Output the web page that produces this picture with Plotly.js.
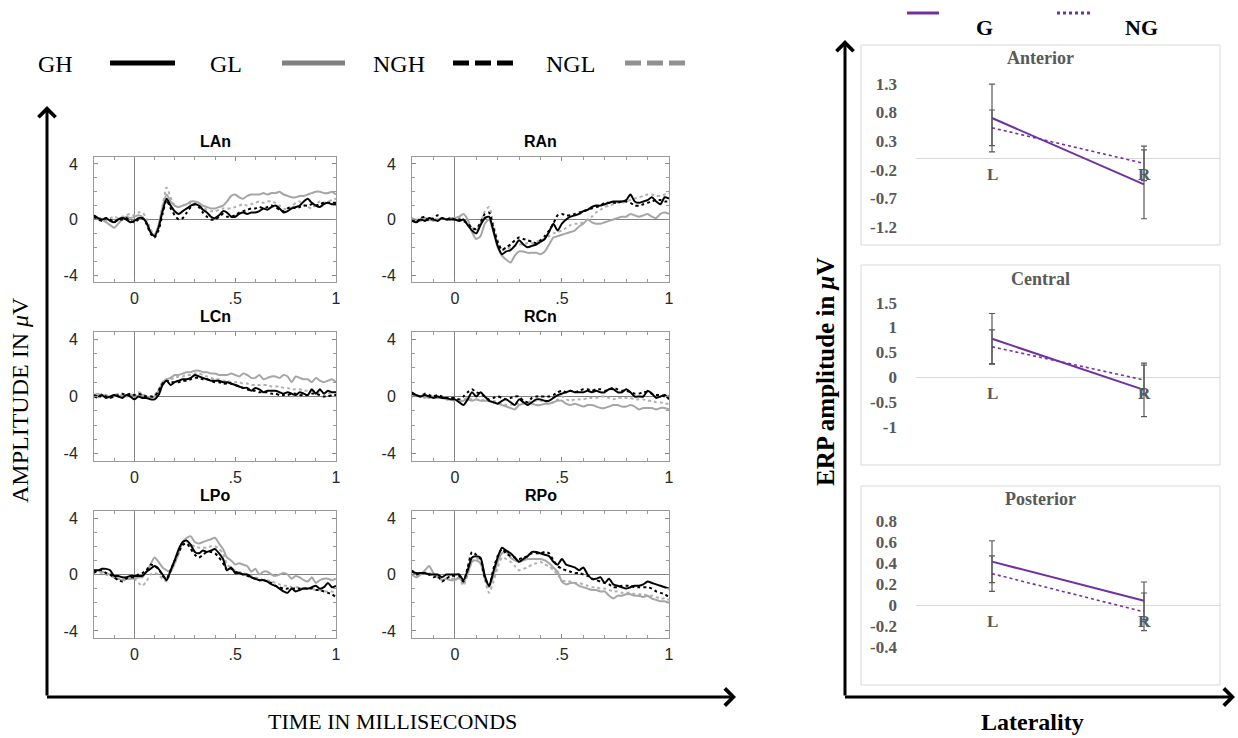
<!DOCTYPE html>
<html>
<head>
<meta charset="utf-8">
<script src="https://cdn.plot.ly/plotly-3.0.1.min.js"></script>
<style>html,body{margin:0;padding:0;background:#fff;}#chart{width:1238px;height:738px;}</style>
</head>
<body>
<div id="chart"></div>
<script>
// ---------- DATA ----------
const time = [-0.2,-0.18,-0.16,-0.14,-0.12,-0.1,-0.08,-0.06,-0.04,-0.02,
0,0.02,0.04,0.06,0.08,0.1,0.12,0.14,0.16,0.18,
0.2,0.22,0.24,0.26,0.28,0.3,0.32,0.34,0.36,0.38,
0.4,0.42,0.44,0.46,0.48,0.5,0.52,0.54,0.56,0.58,
0.6,0.62,0.64,0.66,0.68,0.7,0.72,0.74,0.76,0.78,
0.8,0.82,0.84,0.86,0.88,0.9,0.92,0.94,0.96,0.98,1.0];

const seriesNames = ['GH','GL','NGH','NGL'];
const panelNames = ['LAn','RAn','LCn','RCn','LPo','RPo'];
const xTickLabels = ['0','.5','1'];
const yTickLabels = ['-4','0','4'];

const LAn_GH = [0.3,0.1,0.0,0.1,-0.1,-0.2,0.0,0.1,0.0,-0.2, -0.1,0.1,0.1,-0.2,-0.9,-1.2,-0.6,0.6,1.5,1.0, 0.6,0.4,0.6,0.8,1.0,1.1,1.0,0.7,0.5,0.2, 0.1,0.3,0.6,0.5,0.2,0.2,0.4,0.5,0.4,0.5, 0.5,0.6,0.8,0.7,0.9,1.0,0.8,0.5,0.6,0.8, 0.9,1.0,1.3,1.5,1.2,1.0,0.9,1.1,1.2,1.1, 1.1];
const LAn_GL = [0.2,0.1,0.0,-0.2,-0.4,-0.6,-0.3,0.0,0.2,0.1, 0.2,0.3,0.2,-0.3,-0.9,-1.1,-0.4,0.9,1.8,1.3, 1.0,0.9,1.0,1.1,1.3,1.3,1.2,1.0,0.9,0.8, 0.8,0.9,1.0,1.3,1.7,1.8,1.6,1.5,1.7,1.8, 1.8,1.8,1.9,1.8,1.9,1.9,2.0,1.8,1.7,1.6, 1.6,1.7,1.7,1.8,1.9,2.0,2.0,1.9,1.9,2.0, 1.8];
const LAn_NGH = [0.2,0.0,-0.1,0.1,0.0,-0.2,0.0,0.0,0.1,-0.1, -0.2,0.0,0.1,-0.3,-1.0,-1.3,-0.8,0.4,1.4,0.8, 0.3,0.0,0.1,0.5,0.9,1.1,0.9,0.5,0.2,0.0, 0.0,0.2,0.4,0.2,0.2,0.3,0.5,0.6,0.7,0.8, 0.8,0.9,0.8,0.9,1.0,0.9,0.7,0.6,0.8,0.9, 0.8,0.9,1.0,1.0,1.1,1.0,1.1,1.2,1.2,1.2, 1.2];
const LAn_NGL = [0.1,0.2,0.0,-0.1,0.1,0.2,0.1,0.2,0.3,0.4, 0.3,0.5,0.5,0.1,-0.7,-1.1,-0.5,1.0,2.3,1.6, 1.0,0.9,1.0,1.1,1.2,1.2,1.1,0.9,0.7,0.6, 0.6,0.7,0.8,0.8,0.8,0.9,1.0,1.1,1.0,1.1, 1.2,1.3,1.2,1.3,1.3,1.2,1.0,0.8,0.7,0.9, 1.2,1.3,1.0,0.9,0.8,1.1,1.3,1.2,1.3,1.4, 1.5];

const RAn_GH = [-0.1,-0.2,0.0,-0.1,0.1,0.0,-0.1,0.1,0.0,0.0, 0.0,-0.1,0.0,-0.4,-0.8,-1.0,-0.4,0.1,0.2,-0.8, -1.9,-2.5,-2.3,-2.2,-1.9,-1.5,-1.8,-2.0,-1.9,-1.8, -1.6,-1.4,-0.9,-0.3,-0.8,-0.3,0.0,0.2,0.3,0.4, 0.6,0.7,0.9,1.0,1.0,1.1,1.2,1.3,1.3,1.3, 1.4,1.8,1.3,1.2,1.3,1.4,1.6,1.3,1.1,1.6, 1.5];
const RAn_GL = [0.0,0.0,-0.1,0.1,0.0,-0.1,0.0,0.1,0.0,0.1, 0.1,0.2,0.4,0.0,-0.9,-1.4,-1.2,-0.3,0.0,-0.9, -2.0,-2.6,-2.9,-3.1,-2.6,-2.3,-2.3,-2.4,-2.4,-2.4, -2.5,-2.3,-1.8,-1.3,-1.2,-1.1,-1.0,-0.9,-0.8,-0.5, -0.3,0.0,-0.2,-0.3,-0.3,-0.2,-0.1,0.0,0.1,0.2, 0.2,0.4,0.3,0.2,0.3,0.4,0.2,0.1,0.4,0.5, 0.4];
const RAn_NGH = [0.0,-0.2,0.1,0.2,-0.1,0.1,0.3,0.1,0.0,0.1, 0.0,0.0,-0.1,-0.3,-0.6,-0.7,-0.2,0.4,0.5,-0.6, -1.6,-2.2,-2.0,-1.8,-1.5,-1.3,-1.4,-1.5,-1.6,-1.7, -1.5,-1.2,-0.8,-0.3,0.3,0.4,0.3,0.3,0.4,0.5, 0.6,0.7,0.8,0.9,1.0,1.2,1.2,1.2,1.2,1.3, 1.3,1.2,1.0,1.0,1.1,1.2,1.3,1.4,1.4,1.3, 1.3];
const RAn_NGL = [0.1,0.0,0.0,-0.1,0.0,0.1,0.0,0.1,0.0,0.1, 0.0,0.1,0.0,-0.2,-0.6,-0.8,-0.3,0.6,0.9,-0.3, -1.5,-2.2,-2.1,-2.0,-1.9,-1.8,-1.8,-1.7,-1.7,-1.6, -1.5,-1.4,-1.2,-1.0,-0.9,-0.8,-0.6,-0.4,-0.3,-0.3, -0.2,0.0,0.2,0.5,0.7,0.9,1.0,1.1,1.2,1.2, 1.3,1.4,1.5,1.6,1.7,1.8,1.8,1.7,1.7,1.8, 1.9];

const LCn_GH = [0.1,0.0,0.1,-0.1,0.0,0.1,0.0,-0.1,0.1,0.0, -0.2,0.0,-0.1,-0.1,-0.2,-0.2,0.1,0.8,1.1,0.8, 1.0,1.1,1.2,1.2,1.3,1.5,1.4,1.3,1.2,1.1, 1.1,1.1,1.0,1.0,0.9,0.8,0.7,0.6,0.6,0.4, 0.6,0.5,0.3,0.4,0.4,0.4,0.3,0.2,0.3,0.2, 0.1,0.3,0.2,0.1,0.5,0.2,0.5,0.2,0.4,0.3, 0.3];
const LCn_GL = [0.1,0.2,0.0,0.1,-0.1,0.1,0.0,0.1,0.0,0.1, 0.1,0.0,0.1,0.0,-0.1,0.0,0.4,1.0,1.2,1.3, 1.5,1.5,1.6,1.7,1.7,1.8,1.8,1.7,1.7,1.6, 1.6,1.5,1.5,1.5,1.6,1.5,1.4,1.6,1.5,1.3, 1.3,1.5,1.2,1.3,1.4,1.4,1.3,1.5,1.4,1.0, 1.4,1.3,1.2,1.2,1.0,1.3,1.1,1.0,1.1,1.2, 1.0];
const LCn_NGH = [0.0,-0.1,0.1,0.0,-0.1,0.0,0.1,0.2,0.1,0.2, 0.1,0.2,0.1,0.0,0.0,0.0,0.4,0.9,1.1,1.0, 1.0,1.0,1.1,1.1,1.2,1.3,1.3,1.2,1.2,1.1, 1.0,1.0,0.9,0.9,0.9,0.8,0.7,0.6,0.5,0.4, 0.4,0.3,0.3,0.3,0.2,0.2,0.1,0.1,0.1,0.2, 0.2,0.1,0.1,0.1,0.2,0.2,0.1,0.0,0.0,0.1, 0.1];
const LCn_NGL = [0.1,0.0,0.2,0.1,0.0,0.1,0.2,0.1,0.1,0.2, 0.1,0.3,0.2,0.0,0.0,0.1,0.5,1.0,1.2,1.2, 1.3,1.4,1.4,1.5,1.5,1.6,1.6,1.5,1.4,1.3, 1.2,1.2,1.1,1.1,1.0,1.0,1.0,0.9,0.9,0.8, 0.8,0.8,0.8,0.8,0.7,0.7,0.7,0.6,0.6,0.5, 0.5,0.5,0.4,0.4,0.4,0.3,0.3,0.2,0.2,0.3, 0.3];

const RCn_GH = [0.3,0.1,0.0,0.1,0.0,-0.1,0.0,-0.1,-0.1,-0.2, -0.2,-0.4,-0.6,-0.2,0.3,0.0,0.3,0.0,-0.3,-0.4, -0.5,-0.3,-0.2,-0.4,-0.6,-0.2,-0.4,-0.6,-0.4,-0.2, -0.2,-0.3,-0.3,-0.1,0.1,0.2,0.3,0.4,0.3,0.3, 0.3,0.4,0.3,0.4,0.3,0.3,0.5,0.5,0.3,0.3, 0.5,0.3,0.0,0.0,0.0,0.4,0.2,-0.1,0.0,0.1, -0.2];
const RCn_GL = [0.0,0.1,0.0,0.0,-0.1,0.0,-0.1,-0.1,-0.2,-0.2, -0.2,-0.3,-0.3,-0.2,-0.3,-0.2,-0.3,-0.3,-0.3,-0.4, -0.5,-0.6,-0.7,-0.8,-0.9,-0.6,-0.5,-0.5,-0.5,-0.6, -0.6,-0.5,-0.5,-0.4,-0.3,-0.3,-0.5,-0.6,-0.5,-0.6, -0.7,-0.6,-0.6,-0.7,-0.8,-0.8,-0.7,-0.6,-0.6,-0.7, -0.7,-0.6,-0.7,-0.9,-0.8,-0.8,-0.8,-0.9,-0.8,-0.8, -0.9];
const RCn_NGH = [0.2,0.1,0.0,0.2,0.1,0.0,0.1,0.0,-0.1,-0.1, -0.1,-0.2,0.0,0.3,0.5,0.3,0.2,0.0,-0.2,-0.1, 0.0,-0.1,-0.2,-0.1,0.0,0.0,-0.3,-0.4,-0.1,0.0, 0.0,0.0,0.0,0.1,0.3,0.4,0.3,0.4,0.3,0.4, 0.5,0.5,0.4,0.5,0.5,0.4,0.5,0.6,0.5,0.4, 0.4,0.3,0.2,0.2,0.3,0.3,0.2,0.1,0.1,0.0, 0.0];
const RCn_NGL = [0.0,0.1,0.0,-0.1,0.0,0.0,-0.1,-0.1,-0.2,-0.2, -0.3,-0.2,-0.2,-0.1,-0.2,-0.2,-0.3,-0.2,-0.3,-0.3, -0.4,-0.5,-0.6,-0.6,-0.5,-0.5,-0.4,-0.4,-0.3,-0.3, -0.3,-0.4,-0.5,-0.4,-0.2,0.0,-0.2,-0.3,-0.2,-0.2, -0.2,-0.1,-0.1,-0.1,0.0,0.0,-0.1,-0.2,-0.1,-0.1, -0.1,-0.1,-0.2,-0.2,-0.2,-0.3,-0.3,-0.4,-0.4,-0.5, -0.5];

const LPo_GH = [0.3,0.3,0.4,0.4,0.3,-0.1,-0.1,-0.2,-0.2,-0.1, -0.1,-0.1,-0.1,0.2,0.4,0.6,0.4,0.0,-0.4,0.3, 1.0,1.8,2.3,2.4,2.1,1.6,1.5,1.7,1.6,1.7, 1.8,1.5,1.1,0.3,0.5,0.1,0.1,0.0,0.0,-0.2, -0.3,-0.4,-0.4,-0.5,-0.7,-0.8,-1.0,-1.2,-1.3,-1.0, -1.2,-1.1,-1.0,-1.0,-0.9,-0.8,-1.0,-0.9,-0.6,-0.9, -0.8];
const LPo_GL = [0.2,0.3,0.2,0.1,0.0,-0.2,-0.3,-0.4,-0.3,-0.3, -0.3,-0.2,-0.2,0.2,0.7,1.2,0.9,0.5,0.3,0.2, 0.8,1.5,2.3,2.6,2.7,2.3,2.2,2.3,2.4,2.5, 2.6,2.2,1.8,1.2,1.0,0.7,0.8,0.7,0.6,0.2, 0.4,0.0,0.2,0.2,0.0,-0.1,0.0,0.1,0.0,-0.3, -0.1,-0.2,-0.4,-0.5,-0.2,-0.6,-0.4,-0.3,-0.3,-0.4, -0.3];
const LPo_NGH = [0.1,0.3,0.3,0.1,0.0,-0.2,-0.4,-0.5,-0.3,-0.2, -0.2,0.0,0.1,0.3,0.7,0.6,0.4,-0.1,-0.3,0.3, 1.0,1.6,2.1,2.2,1.8,1.4,1.2,1.4,1.6,1.6, 1.5,1.2,0.8,0.3,0.4,0.2,0.1,0.0,-0.1,-0.2, -0.3,-0.4,-0.4,-0.5,-0.6,-0.8,-0.9,-1.0,-1.0,-1.0, -1.0,-1.0,-1.0,-1.0,-1.0,-1.1,-1.1,-1.2,-1.3,-1.4, -1.6];
const LPo_NGL = [0.3,0.2,0.1,0.0,-0.1,-0.2,-0.3,-0.4,-0.4,-0.3, -0.3,-0.6,-0.8,-0.5,0.0,0.1,0.0,-0.3,-0.5,0.2, 0.8,1.5,2.2,2.3,2.1,2.0,1.9,1.9,1.9,2.0, 2.0,1.8,1.5,0.7,0.5,0.3,0.2,0.1,0.0,-0.1, -0.2,-0.3,-0.4,-0.4,-0.5,-0.6,-0.7,-0.8,-0.8,-0.9, -0.9,-0.9,-1.0,-1.0,-1.0,-1.1,-1.1,-1.2,-1.2,-1.2, -1.3];

const RPo_GH = [0.2,0.1,0.1,0.1,0.0,0.0,0.0,-0.2,0.0,0.0, 0.0,0.0,-0.4,0.3,1.2,1.3,1.2,-0.1,-0.8,0.2, 1.2,1.9,1.7,1.5,1.2,0.9,1.1,1.3,1.6,1.6, 1.5,1.4,1.3,0.9,0.7,1.1,0.7,0.6,0.5,0.3, 0.5,0.0,-0.3,-0.3,-0.2,-0.6,-0.3,-0.7,-0.8,-0.9, -1.0,-0.9,-0.8,-0.8,-0.7,-0.5,-0.6,-0.7,-0.8,-0.9, -1.0];
const RPo_GL = [0.0,-0.2,0.0,0.3,0.6,0.1,-0.2,-0.4,-0.3,-0.4, -0.4,-0.2,-0.6,0.1,0.9,1.0,0.8,-0.3,-0.9,-0.1, 0.9,1.5,1.6,1.2,1.0,0.9,1.0,1.1,1.1,1.1, 1.1,1.0,0.8,0.5,0.2,-0.5,-0.7,-0.6,-0.6,-0.8, -0.9,-1.0,-1.1,-1.1,-1.2,-1.2,-1.5,-1.7,-1.5,-1.5, -1.4,-1.4,-1.5,-1.5,-1.6,-1.5,-1.7,-1.8,-1.9,-1.9, -2.0];
const RPo_NGH = [0.3,0.0,0.1,0.1,0.0,-0.2,-0.1,-0.5,-0.3,-0.1, -0.1,-0.1,-0.5,0.5,1.6,1.4,1.1,-0.2,-0.8,0.4, 1.3,1.8,1.5,1.3,1.2,1.1,1.2,1.3,1.5,1.5, 1.5,1.6,1.5,1.0,0.6,0.4,0.3,0.2,0.1,0.1, 0.0,-0.1,-0.3,-0.4,-0.5,-0.6,-0.7,-0.9,-0.9,-0.8, -0.8,-0.8,-0.9,-0.9,-0.9,-0.9,-1.0,-1.2,-1.3,-1.4, -1.6];
const RPo_NGL = [0.2,0.0,0.1,0.2,0.1,0.0,-0.1,-0.3,-0.3,-0.3, -0.3,-0.3,-0.8,0.0,0.9,1.2,0.8,-0.4,-1.3,-0.5, 0.5,1.2,1.1,0.9,0.6,0.3,0.4,0.5,0.7,0.8, 0.9,0.7,0.6,0.3,0.0,-0.4,-0.5,-0.5,-0.6,-0.6, -0.7,-0.8,-0.9,-0.9,-1.0,-1.0,-1.1,-1.2,-1.2,-1.3, -1.3,-1.3,-1.4,-1.4,-1.4,-1.5,-1.5,-1.6,-1.7,-1.7, -1.8];

// Right-hand summary panels
const laterality = ['L','R'];
const regionNames = ['Anterior','Central','Posterior'];
const ant_G = [0.70,-0.455];
const ant_NG = [0.53,-0.09];
const ant_G_err = [0.59,0.6];
const ant_NG_err = [0.31,0.3];
const cen_G = [0.77,-0.26];
const cen_NG = [0.61,-0.06];
const cen_G_err = [0.51,0.54];
const cen_NG_err = [0.34,0.3];
const pos_G = [0.415,0.04];
const pos_NG = [0.30,-0.065];
const pos_G_err = [0.2,0.18];
const pos_NG_err = [0.17,0.18];
const antTicks = [-1.2,-0.7,-0.2,0.3,0.8,1.3];
const antTickText = ['-1.2','-0.7','-0.2','0.3','0.8','1.3'];
const cenTicks = [-1,-0.5,0,0.5,1,1.5];
const cenTickText = ['-1','-0.5','0','0.5','1','1.5'];
const posTicks = [-0.4,-0.2,0,0.2,0.4,0.6,0.8];
const posTickText = ['-0.4','-0.2','0','0.2','0.4','0.6','0.8'];

// ---------- LAYOUT HELPERS ----------
const W = 1238, H = 738;
const X = p => p / W;
const Y = p => 1 - p / H;

const panelData = [
  [LAn_GH, LAn_GL, LAn_NGH, LAn_NGL],
  [RAn_GH, RAn_GL, RAn_NGH, RAn_NGL],
  [LCn_GH, LCn_GL, LCn_NGH, LCn_NGL],
  [RCn_GH, RCn_GL, RCn_NGH, RCn_NGL],
  [LPo_GH, LPo_GL, LPo_NGH, LPo_NGL],
  [RPo_GH, RPo_GL, RPo_NGH, RPo_NGL]
];
const colsPx = [[94,336],[412,669]];
const rowsPx = [[157,282],[332,461],[511,638]];
const styles = {
  GH:  {color:'#000000', width:2, dash:'solid'},
  GL:  {color:'#a6a6a6', width:2, dash:'solid'},
  NGH: {color:'#000000', width:2, dash:'dot'},
  NGL: {color:'#b0b0b0', width:2, dash:'dot'}
};
const drawOrder = [3,1,2,0];

const traces = [];
const layout = {
  width: W, height: H,
  margin: {l:0, r:0, t:0, b:0},
  paper_bgcolor: '#ffffff', plot_bgcolor: 'rgba(0,0,0,0)',
  showlegend: false,
  shapes: [], annotations: []
};

const tickFontSans = {family:'Liberation Sans, Arial, sans-serif', size:16, color:'#262626'};

panelData.forEach((ser, p) => {
  const c = p % 2, r = Math.floor(p / 2);
  const k = p + 1;
  const xa = k === 1 ? 'x' : 'x' + k;
  const ya = k === 1 ? 'y' : 'y' + k;
  drawOrder.forEach(si => {
    traces.push({
      x: time, y: ser[si], xaxis: xa, yaxis: ya, type: 'scatter', mode: 'lines',
      line: Object.assign({shape:'spline', smoothing:0.6}, styles[seriesNames[si]]),
      hoverinfo: 'skip'
    });
  });
  layout['xaxis' + (k === 1 ? '' : k)] = {
    domain: [X(colsPx[c][0]), X(colsPx[c][1])], anchor: ya,
    range: [-0.2, 1], tickvals: [0, 0.5, 1], ticktext: xTickLabels,
    ticks: 'inside', ticklen: 4, tickcolor: '#8a8a8a',
    minor: {dtick: 0.1, tick0: 0, ticks: 'inside', ticklen: 3, tickcolor: '#9a9a9a'},
    showline: true, mirror: 'ticks', linecolor: '#9a9a9a', linewidth: 1,
    zeroline: true, zerolinecolor: '#808080', zerolinewidth: 1,
    showgrid: false, tickfont: tickFontSans, ticklabelstandoff: 2, fixedrange: true
  };
  layout['yaxis' + (k === 1 ? '' : k)] = {
    domain: [Y(rowsPx[r][1]), Y(rowsPx[r][0])], anchor: xa,
    range: [-4.5, 4.5], tickvals: [-4, 0, 4], ticktext: yTickLabels,
    ticks: 'inside', ticklen: 4, tickcolor: '#8a8a8a',
    minor: {dtick: 1, tick0: 0, ticks: 'inside', ticklen: 3, tickcolor: '#9a9a9a'},
    showline: true, mirror: 'ticks', linecolor: '#9a9a9a', linewidth: 1,
    zeroline: true, zerolinecolor: '#808080', zerolinewidth: 1,
    showgrid: false, tickfont: tickFontSans, ticklabelstandoff: 12, fixedrange: true
  };
  layout.annotations.push({
    xref: 'paper', yref: 'paper',
    x: X((colsPx[c][0] + colsPx[c][1]) / 2), y: Y(rowsPx[r][0] - 16),
    text: '<b>' + panelNames[p] + '</b>', showarrow: false,
    font: {family: 'Liberation Sans, Arial, sans-serif', size: 16, color: '#000'},
    xanchor: 'center', yanchor: 'middle'
  });
});

// Right panels
const rightSets = [
  {G: ant_G, NG: ant_NG, Ge: ant_G_err, NGe: ant_NG_err, ticks: antTicks, ticktext: antTickText,
   dom: [70, 240], range: [-1.425, 1.537], box: [45, 245], title: 58},
  {G: cen_G, NG: cen_NG, Ge: cen_G_err, NGe: cen_NG_err, ticks: cenTicks, ticktext: cenTickText,
   dom: [288, 460], range: [-1.673, 1.794], box: [265, 465], title: 279},
  {G: pos_G, NG: pos_NG, Ge: pos_G_err, NGe: pos_NG_err, ticks: posTicks, ticktext: posTickText,
   dom: [510, 660], range: [-0.526, 0.909], box: [486, 685], title: 499}
];
const purple = '#7030a0';
const serif = 'Liberation Serif, Times New Roman, serif';
const serifBoldGray = {family: serif, size: 17, color: '#595959', weight: 'bold'};

rightSets.forEach((s, i) => {
  const k = 7 + i;
  const xa = 'x' + k, ya = 'y' + k;
  layout.shapes.push({type: 'rect', xref: 'paper', yref: 'paper',
    x0: X(861), x1: X(1220), y0: Y(s.box[1]), y1: Y(s.box[0]),
    line: {color: '#d9d9d9', width: 1}, fillcolor: 'rgba(0,0,0,0)', layer: 'below'});
  traces.push({x: laterality, y: s.G, xaxis: xa, yaxis: ya, type: 'scatter', mode: 'lines',
    line: {color: purple, width: 2},
    error_y: {type: 'data', array: s.Ge, visible: true, color: '#595959', thickness: 1.2, width: 3},
    hoverinfo: 'skip'});
  traces.push({x: laterality, y: s.NG, xaxis: xa, yaxis: ya, type: 'scatter', mode: 'lines',
    line: {color: purple, width: 1.6, dash: 'dot'},
    error_y: {type: 'data', array: s.NGe, visible: true, color: '#595959', thickness: 1.2, width: 3},
    hoverinfo: 'skip'});
  layout['xaxis' + k] = {
    domain: [X(916), X(1220)], anchor: ya, type: 'category', range: [-0.5, 1.5],
    showticklabels: false, ticks: '', showline: false, showgrid: false, zeroline: false, fixedrange: true
  };
  layout['yaxis' + k] = {
    domain: [Y(s.dom[1]), Y(s.dom[0])], anchor: xa, range: s.range,
    tickvals: s.ticks, ticktext: s.ticktext.map(t => '<b>' + t + '</b>'), ticks: '', showline: false, showgrid: false,
    zeroline: true, zerolinecolor: '#d9d9d9', zerolinewidth: 1,
    tickfont: serifBoldGray, ticklabelstandoff: 18, fixedrange: true
  };
  laterality.forEach(cat => {
    layout.annotations.push({xref: xa, yref: ya, x: cat, y: 0, text: '<b>' + cat + '</b>',
      showarrow: false, yanchor: 'top', xanchor: 'center', yshift: -5, font: {family: serif, size: 17, color: '#595959'}});
  });
  layout.annotations.push({xref: 'paper', yref: 'paper', x: X(1040), y: Y(s.title),
    text: '<b>' + regionNames[i] + '</b>', showarrow: false, xanchor: 'center', yanchor: 'middle',
    font: {family: serif, size: 18, color: '#595959'}});
});

// Top-left legend (drawn)
const legL = [
  {label: 'GH', tx: 55, x0: 110, x1: 175, color: '#000000', dash: 'solid'},
  {label: 'GL', tx: 226, x0: 282, x1: 345, color: '#808080', dash: 'solid'},
  {label: 'NGH', tx: 399, x0: 453, x1: 516, color: '#000000', dash: '16px,6px'},
  {label: 'NGL', tx: 570, x0: 625, x1: 686, color: '#909090', dash: '16px,6px'}
];
legL.forEach(l => {
  layout.shapes.push({type: 'line', xref: 'paper', yref: 'paper', x0: X(l.x0), x1: X(l.x1), y0: Y(63), y1: Y(63),
    line: {color: l.color, width: 5, dash: l.dash}});
  layout.annotations.push({xref: 'paper', yref: 'paper', x: X(l.tx), y: Y(64), text: l.label, showarrow: false,
    xanchor: 'center', yanchor: 'middle', font: {family: serif, size: 24, color: '#000'}});
});

// Top-right legend
layout.shapes.push({type: 'line', xref: 'paper', yref: 'paper', x0: X(907), x1: X(939), y0: Y(13), y1: Y(13),
  line: {color: purple, width: 3}});
layout.shapes.push({type: 'line', xref: 'paper', yref: 'paper', x0: X(1057), x1: X(1092), y0: Y(13), y1: Y(13),
  line: {color: purple, width: 3, dash: 'dot'}});
layout.annotations.push({xref: 'paper', yref: 'paper', x: X(984), y: Y(27), text: '<b>G</b>', showarrow: false,
  xanchor: 'center', yanchor: 'middle', font: {family: serif, size: 22, color: '#000'}});
layout.annotations.push({xref: 'paper', yref: 'paper', x: X(1141), y: Y(27), text: '<b>NG</b>', showarrow: false,
  xanchor: 'center', yanchor: 'middle', font: {family: serif, size: 22, color: '#000'}});

// Big arrows
function arrow(hx, hy, tx, ty) {
  layout.annotations.push({xref: 'paper', yref: 'paper', x: X(hx), y: Y(hy), ax: tx - hx, ay: ty - hy,
    axref: 'pixel', ayref: 'pixel', text: '', showarrow: true, arrowhead: 4, arrowsize: 1.1,
    arrowwidth: 3, arrowcolor: '#000', standoff: 0, startstandoff: 0});
}
arrow(47, 106, 47, 697);
arrow(736, 697, 45.5, 697);
arrow(845, 40, 845, 697);
arrow(1235, 697, 843.5, 697);

// Axis titles
layout.annotations.push({xref: 'paper', yref: 'paper', x: X(20), y: Y(400), text: 'AMPLITUDE IN <i>μ</i>V',
  textangle: -90, showarrow: false, xanchor: 'center', yanchor: 'middle', font: {family: serif, size: 24, color: '#000'}});
layout.annotations.push({xref: 'paper', yref: 'paper', x: X(392), y: Y(721), text: 'TIME IN MILLISECONDS',
  showarrow: false, xanchor: 'center', yanchor: 'middle', font: {family: serif, size: 22, color: '#000'}});
layout.annotations.push({xref: 'paper', yref: 'paper', x: X(825), y: Y(372), text: '<b>ERP amplitude in <i>μ</i>V</b>',
  textangle: -90, showarrow: false, xanchor: 'center', yanchor: 'middle', font: {family: serif, size: 25, color: '#000'}});
layout.annotations.push({xref: 'paper', yref: 'paper', x: X(1032), y: Y(722), text: '<b>Laterality</b>',
  showarrow: false, xanchor: 'center', yanchor: 'middle', font: {family: serif, size: 24, color: '#000'}});

Plotly.newPlot('chart', traces, layout, {staticPlot: true, displayModeBar: false});
</script>
</body>
</html>
